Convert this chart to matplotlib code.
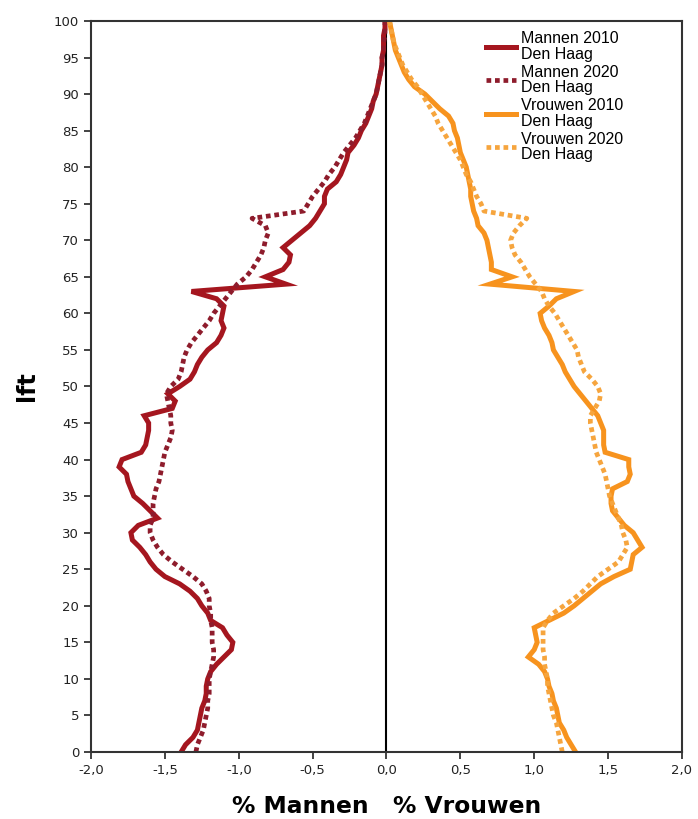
import matplotlib
matplotlib.use("Agg")
import matplotlib.pyplot as plt
from matplotlib.ticker import FuncFormatter

ages = list(range(0, 101))

mannen_2010 = [-1.39, -1.36, -1.31, -1.28, -1.27, -1.26, -1.25, -1.23, -1.22, -1.22,
               -1.21, -1.19, -1.15, -1.10, -1.05, -1.04, -1.08, -1.11, -1.19, -1.21,
               -1.25, -1.28, -1.33, -1.40, -1.50, -1.56, -1.60, -1.63, -1.67, -1.72,
               -1.73, -1.68, -1.55, -1.60, -1.65, -1.71, -1.73, -1.75, -1.76, -1.81,
               -1.79, -1.66, -1.63, -1.62, -1.61, -1.61, -1.64, -1.45, -1.43, -1.48,
               -1.40, -1.33, -1.30, -1.28, -1.25, -1.21, -1.15, -1.12, -1.10, -1.12,
               -1.11, -1.10, -1.15, -1.32, -0.68, -0.82, -0.70, -0.66, -0.65, -0.70,
               -0.64, -0.58, -0.52, -0.48, -0.45, -0.42, -0.42, -0.40, -0.34, -0.31,
               -0.29, -0.27, -0.26, -0.22, -0.19, -0.17, -0.14, -0.12, -0.10, -0.09,
               -0.07, -0.06, -0.05, -0.04, -0.03, -0.03, -0.02, -0.02, -0.02, -0.01,
               -0.01]

mannen_2020 = [-1.29, -1.28, -1.26, -1.24, -1.23, -1.22, -1.21, -1.21, -1.20, -1.20,
               -1.20, -1.19, -1.18, -1.17, -1.17, -1.18, -1.18, -1.18, -1.19, -1.19,
               -1.20, -1.20, -1.22, -1.25, -1.31, -1.38, -1.45, -1.51, -1.55, -1.58,
               -1.60, -1.60, -1.58, -1.58, -1.58, -1.57, -1.56, -1.54, -1.53, -1.52,
               -1.51, -1.50, -1.48, -1.46, -1.45, -1.46, -1.46, -1.47, -1.48, -1.49,
               -1.46, -1.41, -1.39, -1.38, -1.37, -1.35, -1.32, -1.28, -1.24, -1.20,
               -1.17, -1.13, -1.09, -1.05, -1.01, -0.95, -0.91, -0.88, -0.85, -0.83,
               -0.82, -0.80, -0.82, -0.91, -0.56, -0.53, -0.50, -0.46, -0.42, -0.39,
               -0.35, -0.32, -0.29, -0.25, -0.21, -0.18, -0.15, -0.13, -0.11, -0.09,
               -0.07, -0.06, -0.05, -0.04, -0.03, -0.03, -0.02, -0.02, -0.01, -0.01,
               -0.01]

vrouwen_2010 = [1.28, 1.25, 1.22, 1.20, 1.17, 1.16, 1.15, 1.13, 1.12, 1.10,
                1.09, 1.07, 1.03, 0.96, 1.00, 1.02, 1.01, 1.00, 1.10, 1.20,
                1.27, 1.33, 1.39, 1.45, 1.54, 1.65, 1.66, 1.67, 1.73, 1.70,
                1.67, 1.61, 1.57, 1.53, 1.52, 1.52, 1.53, 1.63, 1.65, 1.64,
                1.64, 1.48, 1.47, 1.47, 1.47, 1.45, 1.43, 1.39, 1.35, 1.31,
                1.27, 1.24, 1.21, 1.19, 1.16, 1.13, 1.12, 1.10, 1.07, 1.05,
                1.04, 1.10, 1.15, 1.27, 0.70, 0.85, 0.71, 0.71, 0.70, 0.69,
                0.68, 0.66, 0.62, 0.61, 0.59, 0.58, 0.57, 0.57, 0.56, 0.55,
                0.54, 0.52, 0.50, 0.49, 0.48, 0.46, 0.45, 0.42, 0.36, 0.31,
                0.26, 0.19, 0.15, 0.12, 0.10, 0.08, 0.06, 0.05, 0.04, 0.03,
                0.02]

vrouwen_2020 = [1.19, 1.18, 1.17, 1.16, 1.15, 1.13, 1.12, 1.11, 1.10, 1.09,
                1.09, 1.08, 1.07, 1.07, 1.06, 1.06, 1.06, 1.06, 1.09, 1.13,
                1.20, 1.27, 1.33, 1.38, 1.43, 1.50, 1.57, 1.60, 1.63, 1.62,
                1.60, 1.59, 1.57, 1.55, 1.53, 1.51, 1.50, 1.49, 1.48, 1.46,
                1.44, 1.42, 1.41, 1.40, 1.39, 1.38, 1.38, 1.41, 1.44, 1.45,
                1.43, 1.39, 1.34, 1.32, 1.30, 1.29, 1.26, 1.23, 1.20, 1.17,
                1.14, 1.10, 1.07, 1.05, 1.01, 0.97, 0.94, 0.91, 0.87, 0.85,
                0.84, 0.86, 0.90, 0.95, 0.66, 0.64, 0.61, 0.59, 0.57, 0.54,
                0.52, 0.50, 0.47, 0.44, 0.41, 0.38, 0.35, 0.33, 0.30, 0.27,
                0.24, 0.21, 0.17, 0.14, 0.11, 0.09, 0.07, 0.05, 0.04, 0.03,
                0.02]

labels = ["Mannen 2010\nDen Haag", "Mannen 2020\nDen Haag",
          "Vrouwen 2010\nDen Haag", "Vrouwen 2020\nDen Haag"]

xticks = [-2.0, -1.5, -1.0, -0.5, 0.0, 0.5, 1.0, 1.5, 2.0]
yticks = list(range(0, 101, 5))

red = "#a5161f"
red_dot = "#8e1c2c"
orange = "#f7931e"
orange_dot = "#f6a53e"

fig = plt.figure(figsize=(6.98, 8.19), dpi=100)
ax = fig.add_axes([0.1304, 0.0818, 0.8466, 0.8926])

dot = (0, (1.0, 0.8))
ax.plot(mannen_2010, ages, color=red, lw=3.6, solid_joinstyle="miter", label=labels[0])
ax.plot(mannen_2020, ages, color=red_dot, lw=3.4, linestyle=dot, label=labels[1])
ax.plot(vrouwen_2010, ages, color=orange, lw=3.6, solid_joinstyle="miter", label=labels[2])
ax.plot(vrouwen_2020, ages, color=orange_dot, lw=3.4, linestyle=dot, label=labels[3])

ax.axvline(0, color="black", lw=1.5, zorder=1)

ax.set_xlim(-2.0, 2.0)
ax.set_ylim(0, 100)
ax.set_xticks(xticks)
ax.set_yticks(yticks)
ax.xaxis.set_major_formatter(FuncFormatter(lambda v, p: f"{v:.1f}".replace(".", ",")))
ax.tick_params(axis="both", direction="out", length=5, width=1.2, labelsize=9.5,
               colors="#222222")
for s in ax.spines.values():
    s.set_linewidth(1.5)
    s.set_color("#333333")

ax.set_ylabel("lft", fontsize=17, fontweight="bold", labelpad=11)
ax.set_xlabel("% Mannen   % Vrouwen", fontsize=16.8, fontweight="bold", labelpad=13)

leg = ax.legend(loc="upper left", bbox_to_anchor=(0.668, 0.986), frameon=False,
                prop={"family": "Liberation Sans", "size": 11.5},
                handlelength=1.9, handletextpad=0.3, labelspacing=0.18,
                borderaxespad=0.0, borderpad=0.0)
for t in leg.get_texts():
    t.set_linespacing(1.05)

fig.savefig("out.png", dpi=100)
